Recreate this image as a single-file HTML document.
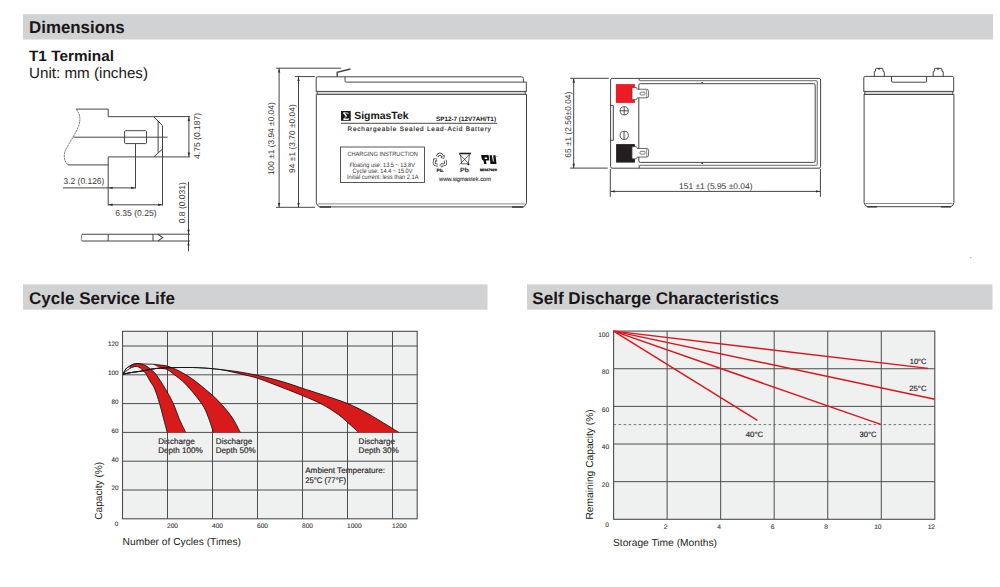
<!DOCTYPE html><html><head><meta charset="utf-8"><title>Dimensions</title><style>html,body{margin:0;padding:0;background:#fff;overflow:hidden}svg{display:block}text{font-family:"Liberation Sans",sans-serif;text-rendering:geometricPrecision}</style></head><body>
<svg width="1000" height="587" viewBox="0 0 1000 587">
<rect width="1000" height="587" fill="#fff"/>
<rect x="23" y="14.2" width="970" height="25.3" fill="#d1d2d4"/>
<rect x="23" y="284.4" width="464.5" height="25.3" fill="#d1d2d4"/>
<rect x="527" y="284.4" width="465.5" height="25.3" fill="#d1d2d4"/>
<text x="29" y="32.7" font-size="17" font-weight="bold" textLength="95.7" lengthAdjust="spacingAndGlyphs" fill="#1a1718">Dimensions</text>
<text x="29" y="303.8" font-size="17" font-weight="bold" textLength="146" lengthAdjust="spacingAndGlyphs" fill="#1a1718">Cycle Service Life</text>
<text x="532.3" y="303.8" font-size="17" font-weight="bold" textLength="246.7" lengthAdjust="spacingAndGlyphs" fill="#1a1718">Self Discharge Characteristics</text>
<text x="29" y="60.8" font-size="15" font-weight="bold" textLength="85" lengthAdjust="spacingAndGlyphs" fill="#1a1718">T1 Terminal</text>
<text x="29" y="77.5" font-size="15" textLength="119" lengthAdjust="spacingAndGlyphs" fill="#1a1718">Unit: mm (inches)</text>
<g fill="none" stroke="#454546" stroke-width="1">
<path d="M76.1,109.1 L108.2,109.1 L108.2,116.7 L153.8,116.7 L162.5,125.6 L162.5,149 L153.8,156.9 L108.2,156.9 L108.2,164.9 L68,164.9"/>
<path d="M76.1,109.1 C79.5,113 81,118 79,125 C77,131 70,142 66,149 C63,155 64,161 68,164.9" stroke-width="0.7" stroke-dasharray="2.2 0.6"/>
<path d="M158.1,121.2 L158.1,152.7"/>
<rect x="124.6" y="130.7" width="21.9" height="12.9" rx="1"/>
<path d="M73.4,137.2 L167.6,137.2"/>
<path d="M135.5,143.6 L135.5,188.4"/>
<path d="M108.2,164.9 L108.2,205.6"/>
<path d="M162.5,149 L162.5,205.6"/>
<path d="M63,187.9 L135.5,187.9"/>
<path d="M108.2,204.8 L162.5,204.8"/>
<path d="M153.8,116.6 L190,116.6 M153.8,156.9 L190,156.9"/>
<path d="M188.9,116.6 L188.9,156.9"/>
<path d="M82,234.2 L158,234.2 L162.7,237.6 L158,241 L82,241" stroke-width="1.1"/>
<path d="M82,234.2 C80.5,236 82.5,238 81.2,239.5 L82,241" stroke-width="0.7"/>
<path d="M108.2,234.2 L108.2,241 M153,234.2 L153,241"/>
<path d="M158,234.2 L190,234.2 M158,241 L190,241"/>
<path d="M188.5,181.8 L188.5,251.3"/>
</g>
<path d="M108.60,187.90 L112.60,186.70 L112.60,189.10 Z" fill="#2a2a2a"/>
<path d="M135.10,187.90 L131.10,186.70 L131.10,189.10 Z" fill="#2a2a2a"/>
<path d="M108.60,204.80 L112.60,203.60 L112.60,206.00 Z" fill="#2a2a2a"/>
<path d="M162.10,204.80 L158.10,203.60 L158.10,206.00 Z" fill="#2a2a2a"/>
<path d="M188.90,117.00 L187.70,121.00 L190.10,121.00 Z" fill="#2a2a2a"/>
<path d="M188.90,156.50 L187.70,152.50 L190.10,152.50 Z" fill="#2a2a2a"/>
<path d="M188.50,233.80 L187.30,229.80 L189.70,229.80 Z" fill="#2a2a2a"/>
<path d="M188.50,241.40 L187.30,245.40 L189.70,245.40 Z" fill="#2a2a2a"/>
<text x="63.5" y="183.8" font-size="8.5" textLength="40.9" lengthAdjust="spacingAndGlyphs" fill="#3a3536">3.2 (0.126)</text>
<text x="115.2" y="216" font-size="8.5" textLength="41.4" lengthAdjust="spacingAndGlyphs" fill="#3a3536">6.35 (0.25)</text>
<text x="199.6" y="158.9" font-size="8.5" textLength="46" lengthAdjust="spacingAndGlyphs" transform="rotate(-90 199.6 158.9)" fill="#3a3536">4.75 (0.187)</text>
<text x="184.8" y="223.2" font-size="8.5" textLength="41" lengthAdjust="spacingAndGlyphs" transform="rotate(-90 184.8 223.2)" fill="#3a3536">0.8 (0.031)</text>
<g fill="none" stroke="#454546" stroke-width="1">
<path d="M276.1,68.2 L341,68.2 M294.8,76.6 L314.9,76.6 M276,207.3 L315,207.3"/>
<path d="M279.1,68.2 L279.1,207.3 M298.5,76.6 L298.5,207.3"/>
<rect x="317" y="91.9" width="208.6" height="2.1" fill="#d6d6d6" stroke="none"/>
<path d="M316.2,91.5 L316.2,78 Q316.2,76.8 317.4,76.8 L521.5,76.8 Q523.3,76.8 523.4,78.5 L523.5,82.1"/>
<path d="M345,76.8 L345,80.8 Q345,82.1 346.3,82.1 L526.3,82.1 L526.3,91.5"/>
<path d="M316.2,91.4 L526.3,91.4 M316.5,94.4 L526.4,94.4"/>
<path d="M316.2,91.4 L317.6,92.9 L316.4,94.4 M526.3,91.4 L524.9,92.9 L526.4,94.4"/>
<path d="M316.3,94.4 L316.3,202.6 Q316.6,205.4 319.6,206.9 L523.3,206.9 Q526.2,205.4 526.5,202.6 L526.5,94.4"/>
<path d="M318,203.9 L524.8,203.9" stroke="#8a8a8a"/>
<path d="M319.6,207 L331,207 M512,207 L523.3,207" stroke-width="1.6" stroke="#3a3a3a"/>
<path d="M337.2,76.8 L337.2,72.2 L350.5,69" stroke-width="1.4"/>
</g>
<path d="M279.10,68.60 L277.90,72.60 L280.30,72.60 Z" fill="#2a2a2a"/>
<path d="M279.10,206.90 L277.90,202.90 L280.30,202.90 Z" fill="#2a2a2a"/>
<path d="M298.50,77.00 L297.30,81.00 L299.70,81.00 Z" fill="#2a2a2a"/>
<path d="M298.50,206.90 L297.30,202.90 L299.70,202.90 Z" fill="#2a2a2a"/>
<text x="274.4" y="138.7" font-size="8.4" text-anchor="middle" textLength="72.8" lengthAdjust="spacingAndGlyphs" transform="rotate(-90 274.4 138.7)" fill="#3a3536">100 ±1 (3.94 ±0.04)</text>
<text x="295.4" y="138.6" font-size="8.4" text-anchor="middle" textLength="68.6" lengthAdjust="spacingAndGlyphs" transform="rotate(-90 295.4 138.6)" fill="#3a3536">94 ±1 (3.70 ±0.04)</text>
<rect x="341" y="111" width="9.7" height="9.8" fill="#1a1718"/>
<path d="M343.3,112.9 L347.8,112.9 L348.3,114.2 M346.3,116.2 L343.6,119.2 L348.6,119.2 L348.8,118.2" fill="none" stroke="#fff" stroke-width="0.8"/><path d="M343.6,112.6 L346.6,116.4" stroke="#fff" stroke-width="1.5"/><path d="M343.6,119.3 L348.4,119.3" stroke="#fff" stroke-width="1.1"/>
<text x="354.2" y="118.8" font-size="10.4" font-weight="bold" textLength="54.3" lengthAdjust="spacingAndGlyphs" fill="#1a1718">SigmasTek</text>
<text x="436" y="121" font-size="6.3" font-weight="bold" textLength="60" lengthAdjust="spacingAndGlyphs" fill="#1a1718">SP12-7 (12V7AH/T1)</text>
<line x1="341" y1="123.3" x2="497" y2="123.3" stroke="#3a3536" stroke-width="0.9"/>
<text x="347.5" y="130.6" font-size="6.4" textLength="143.3" lengthAdjust="spacing" fill="#231f20" stroke="#231f20" stroke-width="0.15">Rechargeable Sealed Lead-Acid Battery</text>
<rect x="340.5" y="147" width="84" height="35.5" fill="none" stroke="#454546" stroke-width="0.9"/>
<text x="382.7" y="155.6" font-size="6.2" text-anchor="middle" textLength="70.5" lengthAdjust="spacingAndGlyphs" fill="#3a3536">CHARGING INSTRUCTION</text>
<text x="382.2" y="166.6" font-size="6.3" text-anchor="middle" textLength="65.5" lengthAdjust="spacingAndGlyphs" fill="#3a3536">Floating use: 13.5 ~ 13.8V</text>
<text x="382.5" y="172.6" font-size="6.3" text-anchor="middle" textLength="60" lengthAdjust="spacingAndGlyphs" fill="#3a3536">Cycle use: 14.4 ~ 15.0V</text>
<text x="382.7" y="178.6" font-size="6.3" text-anchor="middle" textLength="71.5" lengthAdjust="spacingAndGlyphs" fill="#3a3536">Initial current: less than 2.1A</text>
<text x="465" y="180.6" font-size="5.9" text-anchor="middle" textLength="52" lengthAdjust="spacingAndGlyphs" fill="#2e2a2b" stroke="#2e2a2b" stroke-width="0.1">www.sigmastek.com</text>
<path d="M437.09,156.46 Q439.90,151.60 442.71,156.46 M444.89,160.24 Q447.69,165.10 442.08,165.10 M437.72,165.10 Q432.11,165.10 434.91,160.24 " fill="none" stroke="#2a2a2a" stroke-width="2.9" stroke-linecap="butt"/>
<path d="M440.80,157.56 L443.91,158.54 L444.61,155.36 Z M442.08,162.90 L439.68,165.10 L442.08,167.30 Z M436.82,161.34 L436.11,158.16 L433.01,159.14 Z " fill="#fff" stroke="#2a2a2a" stroke-width="0.6" stroke-linejoin="round"/>
<path d="M437.09,156.46 Q439.90,151.60 442.71,156.46 M444.89,160.24 Q447.69,165.10 442.08,165.10 M437.72,165.10 Q432.11,165.10 434.91,160.24 " fill="none" stroke="#fff" stroke-width="1.5"/>
<text x="440.2" y="171.5" font-size="4.6" font-weight="bold" text-anchor="middle" textLength="7.4" lengthAdjust="spacingAndGlyphs" fill="#222" stroke="#222" stroke-width="0.15">Pb.</text>
<g fill="none" stroke="#222" stroke-width="0.7">
<path d="M460.6,155 L461.6,163.8 L468.4,163.8 L469.4,155 M459.3,154 L469.8,164.6 M469.8,154 L459.6,164.6"/>
<path d="M459.2,153.5 L471,153.5" stroke-width="1.6"/>
</g>
<circle cx="468.3" cy="164.4" r="0.9" fill="#222"/>
<text x="464.4" y="171.6" font-size="6" text-anchor="middle" textLength="8.7" lengthAdjust="spacingAndGlyphs" fill="#111" stroke="#111" stroke-width="0.2">Pb</text>
<circle cx="469.6" cy="171.3" r="0.3" fill="#555"/>
<path fill-rule="evenodd" d="M481.2,155 L488.6,155 L489.3,160.6 L485.9,160.6 L486.6,164 L484.2,164 L483.4,160.5 Q481.9,160.2 481.6,158.2 Z M484.5,157.4 L487,157.4 L487.2,159.1 L484.8,159.1 Z" fill="#111"/>
<path d="M489.6,155.2 L491.8,155.2 L492.9,161.6 L493.8,161.6 L493.2,155.2 L495.5,155.2 L496.5,164 L490.4,164 Z" fill="#111"/>
<circle cx="497" cy="156.4" r="0.55" fill="#888"/>
<text x="488.5" y="170.6" font-size="3.3" font-weight="bold" text-anchor="middle" textLength="16.8" lengthAdjust="spacingAndGlyphs" fill="#222" stroke="#222" stroke-width="0.25">MH47929</text>
<g fill="none" stroke="#454546" stroke-width="1">
<path d="M570.1,78.3 L608.9,78.3 M570.1,168.1 L607.7,168.1 M573.7,78.3 L573.7,168.1"/>
<rect x="610.6" y="78.4" width="210" height="89.8" rx="1.6"/>
<path d="M639.2,78.4 L639.2,80.5 M639.2,165.2 L639.2,168.2"/>
<path d="M639.5,80.6 L815.8,80.6 Q817.3,80.6 817.3,82.1 L817.3,163.9 Q817.3,165.4 815.8,165.4 L639.5,165.4" stroke="#888" stroke-width="1.3"/>
<rect x="638.8" y="83.7" width="176.4" height="78.7" rx="1.6"/>
<path d="M613.3,105.4 L613.3,140.3 M610.6,105.4 L613.3,105.4 M610.6,140.3 L613.3,140.3"/>
<path d="M610.3,169 L610.3,196.8 M820.4,169 L820.4,196.8 M610.3,191.4 L820.4,191.4"/>
</g>
<path d="M573.70,78.70 L572.50,82.70 L574.90,82.70 Z" fill="#2a2a2a"/>
<path d="M573.70,167.70 L572.50,163.70 L574.90,163.70 Z" fill="#2a2a2a"/>
<path d="M610.70,191.40 L614.70,190.20 L614.70,192.60 Z" fill="#2a2a2a"/>
<path d="M820.00,191.40 L816.00,190.20 L816.00,192.60 Z" fill="#2a2a2a"/>
<text x="570.6" y="157.7" font-size="8.4" textLength="66" lengthAdjust="spacingAndGlyphs" transform="rotate(-90 570.6 157.7)" fill="#3a3536">65 ±1 (2.56±0.04)</text>
<text x="679" y="189" font-size="8.4" textLength="73.5" lengthAdjust="spacingAndGlyphs" fill="#3a3536">151 ±1 (5.95 ±0.04)</text>
<rect x="615.9" y="84.1" width="19" height="18.8" fill="#ed1c24"/>
<rect x="616.1" y="144.1" width="18.8" height="18.5" fill="#231f20"/>
<path d="M632.6,87.45 L636,87.45 Q636.9,87.45 636.9,88.45 L637.2,89.25 L646.5,89.25 Q648.6,89.25 648.6,91.25 L648.6,95.85 Q648.6,97.85 646.5,97.85 L637.2,97.85 L636.9,98.64999999999999 Q636.9,99.64999999999999 636,99.64999999999999 L632.6,99.64999999999999 Q632,99.64999999999999 632,99.05 L632,88.05 Q632,87.45 632.6,87.45 Z" fill="#fff" stroke="#454546" stroke-width="0.8"/>
<path d="M646.7,89.55 L646.7,97.55" stroke="#454546" stroke-width="0.6"/>
<rect x="640" y="92.14999999999999" width="5" height="2.8" rx="0.9" fill="none" stroke="#454546" stroke-width="0.7"/>
<path d="M632.6,146.65 L636,146.65 Q636.9,146.65 636.9,147.65 L637.2,148.45 L646.5,148.45 Q648.6,148.45 648.6,150.45 L648.6,155.05 Q648.6,157.05 646.5,157.05 L637.2,157.05 L636.9,157.85 Q636.9,158.85 636,158.85 L632.6,158.85 Q632,158.85 632,158.25 L632,147.25 Q632,146.65 632.6,146.65 Z" fill="#fff" stroke="#454546" stroke-width="0.8"/>
<path d="M646.7,148.75 L646.7,156.75" stroke="#454546" stroke-width="0.6"/>
<rect x="640" y="151.35" width="5" height="2.8" rx="0.9" fill="none" stroke="#454546" stroke-width="0.7"/>
<ellipse cx="702.2" cy="82.5" rx="0.9" ry="0.6" fill="#333"/><ellipse cx="702.2" cy="163.4" rx="0.9" ry="0.6" fill="#333"/>
<g fill="none" stroke="#333" stroke-width="0.8">
<circle cx="624.2" cy="110.8" r="4.1"/><path d="M620.1,110.8 L628.3,110.8 M624.2,106.7 L624.2,114.9"/>
<circle cx="624.2" cy="135.3" r="4.1"/><path d="M623.7,131.2 L623.7,139.4 M624.7,131.2 L624.7,139.4" stroke-width="0.5"/>
</g>
<g fill="none" stroke="#454546" stroke-width="1">
<path d="M863.8,91.4 L863.8,77.8 Q863.8,76.4 865.2,76.4 L952.3,76.4 Q953.7,76.4 953.7,77.8 L953.7,91.4"/>
<path d="M891.5,76.4 L891.5,81 Q891.5,82.2 892.7,82.2 L925.4,82.2 Q926.6,82.2 926.6,81 L926.6,76.4"/>
<rect x="864.5" y="91.7" width="88.6" height="2.4" fill="#d6d6d6" stroke="none"/><path d="M863.8,91.4 L953.7,91.4 M864,94.5 L953.7,94.5"/>
<path d="M863.8,91.4 L865.2,92.9 L864,94.5 M953.7,91.4 L952.3,92.9 L953.8,94.5"/>
<path d="M864.1,94.5 L864.1,202.5 Q864.4,205.2 867.2,206.7 L950.9,206.7 Q953.7,205.2 953.9,202.5 L953.9,94.5"/>
<path d="M865.5,203.5 L952.5,203.5" stroke="#8a8a8a"/>
<path d="M867.2,206.8 L877,206.8 M941,206.8 L950.9,206.8" stroke-width="1.6" stroke="#3a3a3a"/>
<path d="M874.3,76.4 L874.3,71.7 L875.4,71.3 L875.6,68.9 Q875.7,68.3 876.4,68.3 L882.1,68.3 Q882.8,68.3 882.9,68.9 L883.1,71.3 L884.3,71.7 L884.3,76.4"/>
<path d="M877.5,68.3 Q879,71.4 880.5,68.3 Z" fill="#3a3a3a" stroke="none"/>
<path d="M933.1999999999999,76.4 L933.1999999999999,71.7 L934.3,71.3 L934.5,68.9 Q934.6,68.3 935.3,68.3 L941.0,68.3 Q941.6999999999999,68.3 941.8,68.9 L942.0,71.3 L943.1999999999999,71.7 L943.1999999999999,76.4"/>
<path d="M936.4,68.3 Q937.9,71.4 939.4,68.3 Z" fill="#3a3a3a" stroke="none"/>
</g>
<rect x="970.3" y="257.2" width="1" height="1" fill="#888"/>
<rect x="122.5" y="331.3" width="294.7" height="187.5" fill="#eff0f0"/>
<text x="158.2" y="443.8" font-size="8.1" textLength="36.5" lengthAdjust="spacingAndGlyphs" fill="#2e2a2b" stroke="#2e2a2b" stroke-width="0.18">Discharge</text>
<text x="158.2" y="453" font-size="8.1" textLength="44.6" lengthAdjust="spacingAndGlyphs" fill="#2e2a2b" stroke="#2e2a2b" stroke-width="0.18">Depth 100%</text>
<text x="215.8" y="443.8" font-size="8.1" textLength="36.5" lengthAdjust="spacingAndGlyphs" fill="#2e2a2b" stroke="#2e2a2b" stroke-width="0.18">Discharge</text>
<text x="215.8" y="453" font-size="8.1" textLength="39.8" lengthAdjust="spacingAndGlyphs" fill="#2e2a2b" stroke="#2e2a2b" stroke-width="0.18">Depth 50%</text>
<text x="358.6" y="443.8" font-size="8.1" textLength="36.5" lengthAdjust="spacingAndGlyphs" fill="#2e2a2b" stroke="#2e2a2b" stroke-width="0.18">Discharge</text>
<text x="358.6" y="453" font-size="8.1" textLength="40.2" lengthAdjust="spacingAndGlyphs" fill="#2e2a2b" stroke="#2e2a2b" stroke-width="0.18">Depth 30%</text>
<text x="305.2" y="473" font-size="8.1" textLength="79.8" lengthAdjust="spacingAndGlyphs" fill="#2e2a2b" stroke="#2e2a2b" stroke-width="0.18">Ambient Temperature:</text>
<text x="305.2" y="482.8" font-size="8.1" textLength="40.8" lengthAdjust="spacingAndGlyphs" fill="#2e2a2b" stroke="#2e2a2b" stroke-width="0.18">25°C (77°F)</text>
<g stroke="#4d4d4f" stroke-width="1">
<line x1="167.50" y1="331.3" x2="167.50" y2="518.8"/>
<line x1="212.50" y1="331.3" x2="212.50" y2="518.8"/>
<line x1="257.50" y1="331.3" x2="257.50" y2="518.8"/>
<line x1="302.50" y1="331.3" x2="302.50" y2="518.8"/>
<line x1="347.50" y1="331.3" x2="347.50" y2="518.8"/>
<line x1="392.50" y1="331.3" x2="392.50" y2="518.8"/>
<line x1="122.5" y1="490.00" x2="417.2" y2="490.00"/>
<line x1="122.5" y1="461.20" x2="417.2" y2="461.20"/>
<line x1="122.5" y1="432.40" x2="417.2" y2="432.40"/>
<line x1="122.5" y1="403.60" x2="417.2" y2="403.60"/>
<line x1="122.5" y1="374.80" x2="417.2" y2="374.80"/>
<line x1="122.5" y1="346.00" x2="417.2" y2="346.00"/>
</g>
<path d="M129.60,366.20 C130.25,365.87 132.20,364.65 133.50,364.20 C134.80,363.75 136.07,363.52 137.40,363.50 C138.73,363.48 140.13,363.75 141.50,364.10 C142.87,364.45 144.03,364.70 145.60,365.60 C147.17,366.50 149.17,368.03 150.90,369.50 C152.63,370.97 153.58,371.17 156.00,374.40 C158.42,377.63 162.52,384.05 165.40,388.90 C168.28,393.75 171.00,398.53 173.30,403.50 C175.60,408.47 177.13,413.88 179.20,418.70 C181.27,423.52 184.62,430.12 185.70,432.40 L167.2,432.4 C166.60,430.12 164.87,423.52 163.60,418.70 C162.33,413.88 161.08,408.47 159.60,403.50 C158.12,398.53 156.20,392.48 154.70,388.90 C153.20,385.32 152.00,384.42 150.60,382.00 C149.20,379.58 147.42,376.13 146.30,374.40 C145.18,372.67 144.70,372.50 143.90,371.60 C143.10,370.70 142.32,369.73 141.50,369.00 C140.68,368.27 139.85,367.63 139.00,367.20 C138.15,366.77 137.40,366.42 136.40,366.40 C135.40,366.38 134.13,366.73 133.00,367.10 C131.87,367.47 130.17,368.35 129.60,368.60 Z" fill="#d91a1a"/>
<path d="M152.50,364.20 C153.18,364.27 155.23,364.45 156.60,364.60 C157.97,364.75 158.80,364.82 160.70,365.10 C162.60,365.38 164.90,365.30 168.00,366.30 C171.10,367.30 175.23,368.98 179.30,371.10 C183.37,373.22 188.02,375.93 192.40,379.00 C196.78,382.07 201.22,385.78 205.60,389.50 C209.98,393.22 214.33,396.72 218.70,401.30 C223.07,405.88 228.20,411.82 231.80,417.00 C235.40,422.18 238.88,429.83 240.30,432.40 L213.4,432.4 C212.53,429.83 210.17,421.82 208.20,417.00 C206.23,412.18 205.32,408.93 201.60,403.50 C197.88,398.07 190.48,389.23 185.90,384.40 C181.32,379.57 177.08,376.92 174.10,374.50 C171.12,372.08 169.60,370.85 168.00,369.90 C166.40,368.95 165.72,369.08 164.50,368.80 C163.28,368.52 161.33,368.30 160.70,368.20 Q157.5,366.6 152.5,364.2 Z" fill="#d91a1a"/>
<path d="M220.00,369.50 C223.00,369.87 231.77,370.73 238.00,371.70 C244.23,372.67 251.23,373.98 257.40,375.30 C263.57,376.62 269.57,378.15 275.00,379.60 C280.43,381.05 285.42,382.55 290.00,384.00 C294.58,385.45 297.17,386.53 302.50,388.30 C307.83,390.07 314.50,392.07 322.00,394.60 C329.50,397.13 340.17,400.52 347.50,403.50 C354.83,406.48 359.25,408.80 366.00,412.50 C372.75,416.20 382.53,422.38 388.00,425.70 C393.47,429.02 397.00,431.28 398.80,432.40 L358.3,432.4 C357.75,431.83 356.80,430.67 355.00,429.00 C353.20,427.33 350.25,424.78 347.50,422.40 C344.75,420.02 342.75,417.72 338.50,414.70 C334.25,411.68 328.00,407.48 322.00,404.30 C316.00,401.12 310.33,398.87 302.50,395.60 C294.67,392.33 282.52,387.60 275.00,384.70 C267.48,381.80 262.40,379.82 257.40,378.20 C252.40,376.58 249.23,376.05 245.00,375.00 C240.77,373.95 236.17,372.82 232.00,371.90 C227.83,370.98 222.00,369.90 220.00,369.50 Z" fill="#d91a1a"/>
<path d="M122.70,374.50 C123.25,373.55 124.85,370.18 126.00,368.80 C127.15,367.42 128.35,366.97 129.60,366.20 C130.85,365.43 132.20,364.65 133.50,364.20 C134.80,363.75 136.07,363.52 137.40,363.50 C138.73,363.48 140.13,363.75 141.50,364.10 C142.87,364.45 144.03,364.70 145.60,365.60 C147.17,366.50 149.17,368.03 150.90,369.50 C152.63,370.97 153.58,371.17 156.00,374.40 C158.42,377.63 162.52,384.05 165.40,388.90 C168.28,393.75 171.00,398.53 173.30,403.50 C175.60,408.47 177.13,413.88 179.20,418.70 C181.27,423.52 184.62,430.12 185.70,432.40" fill="none" stroke="#111" stroke-width="0.85"/>
<path d="M122.70,374.50 C123.25,373.95 124.85,372.18 126.00,371.20 C127.15,370.22 128.43,369.28 129.60,368.60 C130.77,367.92 131.87,367.47 133.00,367.10 C134.13,366.73 135.40,366.38 136.40,366.40 C137.40,366.42 138.15,366.77 139.00,367.20 C139.85,367.63 140.68,368.27 141.50,369.00 C142.32,369.73 143.10,370.70 143.90,371.60 C144.70,372.50 145.18,372.67 146.30,374.40 C147.42,376.13 149.20,379.58 150.60,382.00 C152.00,384.42 153.20,385.32 154.70,388.90 C156.20,392.48 158.12,398.53 159.60,403.50 C161.08,408.47 162.33,413.88 163.60,418.70 C164.87,423.52 166.60,430.12 167.20,432.40" fill="none" stroke="#111" stroke-width="0.85"/>
<path d="M122.70,374.50 C123.25,373.55 124.85,370.18 126.00,368.80 C127.15,367.42 128.35,366.97 129.60,366.20 C130.85,365.43 132.20,364.65 133.50,364.20 C134.80,363.75 136.07,363.57 137.40,363.50 C138.73,363.43 140.13,363.70 141.50,363.80 C142.87,363.90 143.77,364.03 145.60,364.10 C147.43,364.17 150.67,364.12 152.50,364.20 C154.33,364.28 155.23,364.45 156.60,364.60 C157.97,364.75 158.80,364.82 160.70,365.10 C162.60,365.38 164.90,365.30 168.00,366.30 C171.10,367.30 175.23,368.98 179.30,371.10 C183.37,373.22 188.02,375.93 192.40,379.00 C196.78,382.07 201.22,385.78 205.60,389.50 C209.98,393.22 214.33,396.72 218.70,401.30 C223.07,405.88 228.20,411.82 231.80,417.00 C235.40,422.18 238.88,429.83 240.30,432.40" fill="none" stroke="#111" stroke-width="0.85"/>
<path d="M122.70,374.50 C123.58,374.27 125.95,373.52 128.00,373.10 C130.05,372.68 132.75,372.33 135.00,372.00 C137.25,371.67 139.50,371.43 141.50,371.10 C143.50,370.77 145.17,370.35 147.00,370.00 C148.83,369.65 150.90,369.28 152.50,369.00 C154.10,368.72 155.23,368.43 156.60,368.30 C157.97,368.17 159.38,368.12 160.70,368.20 C162.02,368.28 163.28,368.52 164.50,368.80 C165.72,369.08 166.40,368.95 168.00,369.90 C169.60,370.85 171.12,372.08 174.10,374.50 C177.08,376.92 181.32,379.57 185.90,384.40 C190.48,389.23 197.88,398.07 201.60,403.50 C205.32,408.93 206.23,412.18 208.20,417.00 C210.17,421.82 212.53,429.83 213.40,432.40" fill="none" stroke="#111" stroke-width="0.85"/>
<path d="M122.70,374.50 C123.58,374.27 125.95,373.52 128.00,373.10 C130.05,372.68 132.75,372.33 135.00,372.00 C137.25,371.67 139.50,371.43 141.50,371.10 C143.50,370.77 145.17,370.35 147.00,370.00 C148.83,369.65 150.22,369.32 152.50,369.00 C154.78,368.68 158.12,368.30 160.70,368.10 C163.28,367.90 164.78,367.90 168.00,367.80 C171.22,367.70 175.93,367.55 180.00,367.50 C184.07,367.45 188.23,367.40 192.40,367.50 C196.57,367.60 200.40,367.77 205.00,368.10 C209.60,368.43 214.50,368.90 220.00,369.50 C225.50,370.10 231.77,370.73 238.00,371.70 C244.23,372.67 251.23,373.98 257.40,375.30 C263.57,376.62 269.57,378.15 275.00,379.60 C280.43,381.05 285.42,382.55 290.00,384.00 C294.58,385.45 297.17,386.53 302.50,388.30 C307.83,390.07 314.50,392.07 322.00,394.60 C329.50,397.13 340.17,400.52 347.50,403.50 C354.83,406.48 359.25,408.80 366.00,412.50 C372.75,416.20 382.53,422.38 388.00,425.70 C393.47,429.02 397.00,431.28 398.80,432.40" fill="none" stroke="#111" stroke-width="0.85"/>
<path d="M122.70,374.50 C123.58,374.27 125.95,373.52 128.00,373.10 C130.05,372.68 132.75,372.33 135.00,372.00 C137.25,371.67 139.50,371.43 141.50,371.10 C143.50,370.77 145.17,370.35 147.00,370.00 C148.83,369.65 150.22,369.32 152.50,369.00 C154.78,368.68 158.12,368.30 160.70,368.10 C163.28,367.90 164.78,367.90 168.00,367.80 C171.22,367.70 175.93,367.55 180.00,367.50 C184.07,367.45 188.23,367.40 192.40,367.50 C196.57,367.60 200.40,367.77 205.00,368.10 C209.60,368.43 215.50,368.87 220.00,369.50 C224.50,370.13 227.83,370.98 232.00,371.90 C236.17,372.82 240.77,373.95 245.00,375.00 C249.23,376.05 252.40,376.58 257.40,378.20 C262.40,379.82 267.48,381.80 275.00,384.70 C282.52,387.60 294.67,392.33 302.50,395.60 C310.33,398.87 316.00,401.12 322.00,404.30 C328.00,407.48 334.25,411.68 338.50,414.70 C342.75,417.72 344.75,420.02 347.50,422.40 C350.25,424.78 353.20,427.33 355.00,429.00 C356.80,430.67 357.75,431.83 358.30,432.40" fill="none" stroke="#111" stroke-width="0.85"/>
<rect x="122.5" y="331.3" width="294.7" height="187.5" fill="none" stroke="#4d4d4f" stroke-width="1.1"/>
<text x="118.6" y="490.29999999999995" font-size="6.4" text-anchor="end" fill="#3a3536" stroke="#3a3536" stroke-width="0.12">20</text>
<text x="118.6" y="461.49999999999994" font-size="6.4" text-anchor="end" fill="#3a3536" stroke="#3a3536" stroke-width="0.12">40</text>
<text x="118.6" y="432.7" font-size="6.4" text-anchor="end" fill="#3a3536" stroke="#3a3536" stroke-width="0.12">60</text>
<text x="118.6" y="403.9" font-size="6.4" text-anchor="end" fill="#3a3536" stroke="#3a3536" stroke-width="0.12">80</text>
<text x="118.6" y="375.09999999999997" font-size="6.4" text-anchor="end" fill="#3a3536" stroke="#3a3536" stroke-width="0.12">100</text>
<text x="118.6" y="346.3" font-size="6.4" text-anchor="end" fill="#3a3536" stroke="#3a3536" stroke-width="0.12">120</text>
<text x="118.4" y="526.1" font-size="6.4" text-anchor="end" fill="#3a3536" stroke="#3a3536" stroke-width="0.12">0</text>
<text x="167.0" y="527.9" font-size="6.6" fill="#3a3536" stroke="#3a3536" stroke-width="0.12">200</text>
<text x="212.0" y="527.9" font-size="6.6" fill="#3a3536" stroke="#3a3536" stroke-width="0.12">400</text>
<text x="257.0" y="527.9" font-size="6.6" fill="#3a3536" stroke="#3a3536" stroke-width="0.12">600</text>
<text x="302.0" y="527.9" font-size="6.6" fill="#3a3536" stroke="#3a3536" stroke-width="0.12">800</text>
<text x="347.0" y="527.9" font-size="6.6" fill="#3a3536" stroke="#3a3536" stroke-width="0.12">1000</text>
<text x="392.0" y="527.9" font-size="6.6" fill="#3a3536" stroke="#3a3536" stroke-width="0.12">1200</text>
<text x="122.6" y="545.3" font-size="10.2" textLength="118.4" lengthAdjust="spacingAndGlyphs" fill="#231f20">Number of Cycles (Times)</text>
<text x="101.8" y="519.8" font-size="10.2" textLength="58" lengthAdjust="spacingAndGlyphs" transform="rotate(-90 101.8 519.8)" fill="#231f20">Capacity (%)</text>
<rect x="613.6" y="331.1" width="321.2" height="188.2" fill="#eff0f0"/>
<g stroke="#4d4d4f" stroke-width="1">
<line x1="667.13" y1="331.1" x2="667.13" y2="519.3"/>
<line x1="720.67" y1="331.1" x2="720.67" y2="519.3"/>
<line x1="774.20" y1="331.1" x2="774.20" y2="519.3"/>
<line x1="827.74" y1="331.1" x2="827.74" y2="519.3"/>
<line x1="881.27" y1="331.1" x2="881.27" y2="519.3"/>
<line x1="613.6" y1="481.66" x2="934.8" y2="481.66"/>
<line x1="613.6" y1="444.02" x2="934.8" y2="444.02"/>
<line x1="613.6" y1="406.38" x2="934.8" y2="406.38"/>
<line x1="613.6" y1="368.74" x2="934.8" y2="368.74"/>
</g>
<line x1="613.6" y1="424.6" x2="934.8" y2="424.6" stroke="#555" stroke-width="0.8" stroke-dasharray="2.6 2.4"/>
<rect x="613.6" y="331.1" width="321.2" height="188.2" fill="none" stroke="#4d4d4f" stroke-width="1.1"/>
<g stroke="#dd151b" stroke-width="1.45" stroke-linecap="butt" fill="none">
<path d="M613.6,331.1 L928.1,368.4"/>
<path d="M613.6,331.1 L934.8,399.3"/>
<path d="M613.6,331.1 L880.7,424.4"/>
<path d="M613.6,331.1 L757.4,420.3"/>
</g>
<text x="909.8" y="364.0" font-size="7.6" textLength="16.7" lengthAdjust="spacingAndGlyphs" fill="#2e2a2b" stroke="#2e2a2b" stroke-width="0.18">10°C</text>
<text x="909.2" y="391.4" font-size="7.6" textLength="17.3" lengthAdjust="spacingAndGlyphs" fill="#2e2a2b" stroke="#2e2a2b" stroke-width="0.18">25°C</text>
<text x="745.7" y="436.5" font-size="7.6" textLength="17.5" lengthAdjust="spacingAndGlyphs" fill="#2e2a2b" stroke="#2e2a2b" stroke-width="0.18">40°C</text>
<text x="859.5" y="436.5" font-size="7.6" textLength="17.1" lengthAdjust="spacingAndGlyphs" fill="#2e2a2b" stroke="#2e2a2b" stroke-width="0.18">30°C</text>
<text x="609.2" y="487.05999999999995" font-size="6.6" text-anchor="end" fill="#3a3536" stroke="#3a3536" stroke-width="0.12">20</text>
<text x="609.2" y="449.41999999999996" font-size="6.6" text-anchor="end" fill="#3a3536" stroke="#3a3536" stroke-width="0.12">40</text>
<text x="609.2" y="411.78" font-size="6.6" text-anchor="end" fill="#3a3536" stroke="#3a3536" stroke-width="0.12">60</text>
<text x="609.2" y="374.13999999999993" font-size="6.6" text-anchor="end" fill="#3a3536" stroke="#3a3536" stroke-width="0.12">80</text>
<text x="609.2" y="336.49999999999994" font-size="6.6" text-anchor="end" fill="#3a3536" stroke="#3a3536" stroke-width="0.12">100</text>
<text x="609" y="526.9" font-size="6.6" text-anchor="end" fill="#3a3536" stroke="#3a3536" stroke-width="0.12">0</text>
<text x="667.3340000000001" y="528.8" font-size="6.6" text-anchor="end" fill="#3a3536" stroke="#3a3536" stroke-width="0.12">2</text>
<text x="720.868" y="528.8" font-size="6.6" text-anchor="end" fill="#3a3536" stroke="#3a3536" stroke-width="0.12">4</text>
<text x="774.402" y="528.8" font-size="6.6" text-anchor="end" fill="#3a3536" stroke="#3a3536" stroke-width="0.12">6</text>
<text x="827.936" y="528.8" font-size="6.6" text-anchor="end" fill="#3a3536" stroke="#3a3536" stroke-width="0.12">8</text>
<text x="881.47" y="528.8" font-size="6.6" text-anchor="end" fill="#3a3536" stroke="#3a3536" stroke-width="0.12">10</text>
<text x="935.0040000000001" y="528.8" font-size="6.6" text-anchor="end" fill="#3a3536" stroke="#3a3536" stroke-width="0.12">12</text>
<text x="613" y="546" font-size="10.2" textLength="104" lengthAdjust="spacingAndGlyphs" fill="#231f20">Storage Time (Months)</text>
<text x="593.2" y="519.6" font-size="10.2" textLength="110.3" lengthAdjust="spacingAndGlyphs" transform="rotate(-90 593.2 519.6)" fill="#231f20">Remaining Capacity (%)</text>
</svg></body></html>
